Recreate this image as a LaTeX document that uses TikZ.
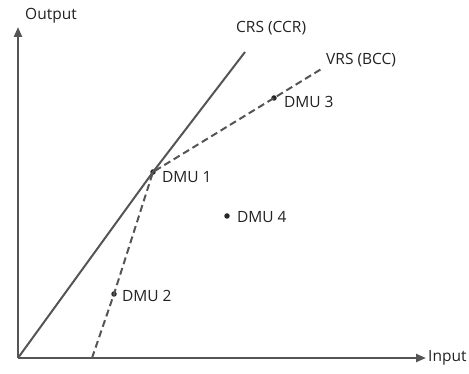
\documentclass[tikz,border=0pt]{standalone}
\usepackage{fontspec}
\setmainfont{Open Sans}
\usepackage{tikz}
\usetikzlibrary{positioning,calc,arrows.meta}
\definecolor{linegray}{HTML}{555555}
\definecolor{textgray}{HTML}{222222}

\begin{document}
\begin{tikzpicture}[x=1pt, y=1pt,
    axis line/.style={draw=linegray, line width=2.4pt, -{Triangle[length=10pt, width=8pt]}},
    frontier/.style={draw=linegray, line width=2pt},
    vrs line/.style={draw=linegray, line width=2pt, dash pattern=on 7pt off 4pt},
    dmu dot/.style={circle, fill=black!85, inner sep=0pt, minimum size=5.5pt},
    lbl/.style={text=textgray, font=\fontsize{15.5}{17}\selectfont, inner sep=1pt}]
    \useasboundingbox (-18,-16) rectangle (451,358);
    % Axes
    \coordinate (origin) at (0,0);
    \coordinate (xend) at (408,0);
    \coordinate (yend) at (0,331);
    \draw[axis line] (origin) -- (xend);
    \draw[axis line] (origin) -- (yend);
    \node[lbl, inner sep=0pt, right=2pt of xend] (inputlbl) {Input};
    \node[lbl, anchor=south west] (outputlbl) at (6,334) {Output};

    % DMUs
    \node[dmu dot] (dmu1) at (135,186) {};
    \node[dmu dot] (dmu2) at (96,64) {};
    \node[dmu dot] (dmu3) at (256,260) {};
    \node[dmu dot] (dmu4) at (209,142) {};
    \node[lbl, anchor=west] at ($(dmu1.east)+(5,-5)$) {DMU 1};
    \node[lbl, anchor=west] at ($(dmu2.east)+(4,-2)$) {DMU 2};
    \node[lbl, anchor=west] at ($(dmu3.east)+(6,-4)$) {DMU 3};
    \node[lbl, anchor=west] at ($(dmu4.east)+(6,-1)$) {DMU 4};

    % CRS frontier
    \coordinate (crsend) at (227,306);
    \draw[frontier] (origin) -- (dmu1.center) -- (crsend);
    \node[lbl, anchor=south west] (crslbl) at ($(crsend)+(-10,16)$) {CRS (CCR)};

    % VRS frontier
    \coordinate (vrsstart) at (74,0);
    \coordinate (vrsend) at (305,290);
    \draw[vrs line] (vrsstart) -- (dmu2.center) -- (dmu1.center) -- (dmu3.center) -- (vrsend);
    \node[lbl, anchor=west] (vrslbl) at ($(vrsend)+(2,8)$) {VRS (BCC)};
\end{tikzpicture}
\end{document}
